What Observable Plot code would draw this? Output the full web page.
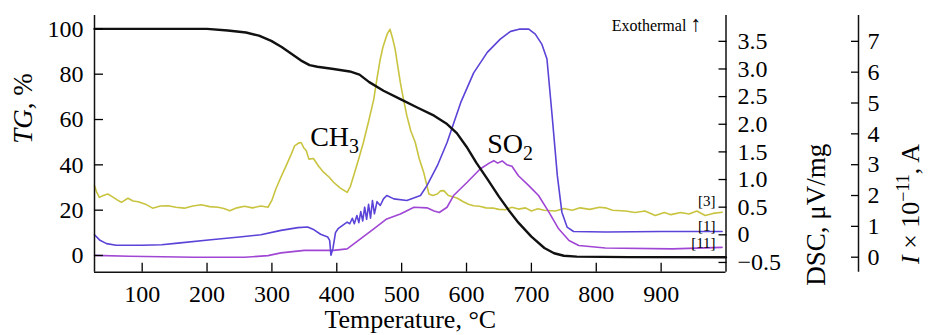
<!DOCTYPE html>
<html><head><meta charset="utf-8">
<script src="https://cdn.jsdelivr.net/npm/d3@7"></script>
<script src="https://cdn.jsdelivr.net/npm/@observablehq/plot@0.6"></script>
<style>body{margin:0;background:#fff} #chart{width:928px;height:335px}</style>
</head><body><div id="chart"></div>
<script>
// ---- data (temperature °C, value in the curve's own unit) ----
const xTicks = [100, 200, 300, 400, 500, 600, 700, 800, 900];
const tgTicks = [0, 20, 40, 60, 80, 100];
const dscTicks = [-0.5, 0, 0.5, 1.0, 1.5, 2.0, 2.5, 3.0, 3.5];
const iTicks = [0, 1, 2, 3, 4, 5, 6, 7];

// TG, %
const tg = [[26.5,100],[100,100],[200,100],[232,99.3],[260,98.4],[280,97],[299,94.7],[315,92],[330,89],[345,86],[358,84],[370,83.3],[395,82.3],[420,81.2],[435,79.8],[450,76.5],[472,72.7],[498,69],[524,65.3],[550,61.7],[570,58],[585,54],[600,48],[615,41],[632,33.8],[650,26],[665,20],[680,14.5],[700,8.3],[720,3.3],[735,1],[750,-0.1],[770,-0.5],[850,-0.7],[1000,-0.8]];

// DSC, µV/mg  [1]
const dsc = [[26.5,0],[35,-0.1],[45,-0.16],[60,-0.19],[100,-0.19],[130,-0.18],[155,-0.15],[206,-0.09],[250,-0.04],[283,0],[314,0.08],[340,0.13],[355,0.14],[365,0.09],[375,0.01],[386,-0.04],[389,-0.1],[391,-0.37],[394,-0.25],[398,0.04],[402,0.11],[410,0.18],[416,0.23],[420,0.2],[424,0.3],[427,0.2],[431,0.35],[434,0.22],[437,0.42],[440,0.25],[443,0.5],[446,0.28],[449,0.55],[452,0.3],[455,0.62],[458,0.38],[462,0.6],[467,0.53],[472,0.65],[477,0.71],[488,0.65],[508,0.62],[529,0.71],[539,0.89],[555,1.25],[570,1.67],[591,2.39],[611,2.93],[632,3.3],[652,3.54],[668,3.68],[681,3.72],[696,3.72],[706,3.63],[716,3.45],[724,3.18],[732,2.15],[740,1.07],[747,0.41],[755,0.14],[765,0.06],[815,0.05],[900,0.06],[994,0.06]];

// Ion current SO2 (m/z 64), I x 1e-11 A  [11]
const so2 = [[26.5,0.06],[80,0.03],[180,0],[258,0],[294,0.05],[314,0.14],[350,0.22],[395,0.22],[416,0.27],[437,0.6],[457,0.92],[477,1.24],[498,1.4],[519,1.62],[539,1.6],[550,1.5],[558,1.45],[570,1.62],[580,2.0],[601,2.43],[621,2.86],[635,3.05],[642,3.13],[648,3.05],[655,3.12],[662,3.0],[670,2.95],[680,2.64],[696,2.32],[711,2.0],[727,1.46],[742,0.92],[758,0.54],[773,0.38],[814,0.3],[917,0.27],[994,0.32]];

// Ion current CH3 (m/z 15), I x 1e-11 A  [3]
const ch3 = [[26.5,2.32],[30,2.1],[34,1.94],[40,2.0],[47,2.05],[55,1.95],[62,1.85],[68,1.78],[78,1.91],[86,1.82],[94,1.8],[105,1.72],[116,1.59],[128,1.66],[140,1.67],[152,1.62],[165,1.59],[178,1.66],[191,1.7],[204,1.64],[217,1.62],[226,1.58],[235,1.51],[246,1.6],[258,1.65],[270,1.6],[283,1.66],[294,1.62],[300,1.85],[306,2.21],[314,2.6],[322,2.97],[329,3.3],[335,3.61],[341,3.7],[345,3.72],[349,3.55],[353,3.45],[357,3.18],[364,3.2],[372,2.95],[380,2.75],[388,2.6],[395,2.43],[405,2.25],[416,2.1],[421,2.3],[426,2.64],[434,3.2],[441,3.72],[449,4.4],[457,5.12],[462,5.8],[467,6.42],[471,6.8],[475,7.07],[478,7.25],[482,7.39],[486,7.1],[490,6.74],[494,6.2],[498,5.66],[503,5.1],[508,4.59],[514,4.1],[521,3.72],[527,3.2],[534,2.75],[542,2.05],[548,2.0],[555,2.05],[560,2.15],[565,2.16],[572,2.0],[580,1.95],[586,1.91],[595,1.8],[603,1.72],[611,1.67],[620,1.65],[630,1.6],[642,1.59],[650,1.55],[660,1.54],[670,1.62],[680,1.56],[691,1.6],[700,1.5],[710,1.57],[720,1.52],[737,1.5],[750,1.58],[763,1.52],[775,1.6],[790,1.55],[805,1.62],[814,1.6],[825,1.52],[845,1.5],[860,1.45],[875,1.5],[891,1.35],[905,1.45],[915,1.38],[930,1.45],[943,1.4],[955,1.5],[968,1.35],[980,1.42],[994,1.46]];

// annotation anchors (temperature, TG-scale value)
const curveLabels = [{text: "CH3", T: 359, v: 48.5}, {text: "SO2", T: 632, v: 45.4}];
const traceTags = [{text: "[3]", T: 984, v: 22}, {text: "[1]", T: 984, v: 11}, {text: "[11]", T: 984, v: 3.1}];
const exoNote = [{text: "Exothermal ↑", T: 962, v: 99}];

// ---- scales ----
const xDomain = [26.5, 1000];
const tgDomain = [-7.37, 105.9];
const dscToY = d3.scaleLinear([0, 3.5], [9.13, 94.5]);
const iToY = d3.scaleLinear([0, 7], [-0.75, 94.5]);
const iAxisOffset = 132.5;
const fmtDsc = d => d === 0 ? "0" : (d < 0 ? "\u2212" + (-d).toFixed(1) : d.toFixed(1));

const FONT = "Liberation Serif";
const plot = Plot.plot({
  width: 928, height: 335,
  marginTop: 15, marginBottom: 63.3, marginLeft: 94, marginRight: 202.5,
  style: {fontFamily: FONT, fontSize: "24px", color: "#000", background: "#fff"},
  x: {domain: xDomain},
  y: {domain: tgDomain},
  marks: [
    Plot.line(ch3, {x: d => d[0], y: d => iToY(d[1]), stroke: "#c9c440", strokeWidth: 1.6}),
    Plot.line(so2, {x: d => d[0], y: d => iToY(d[1]), stroke: "#a046d4", strokeWidth: 1.6}),
    Plot.line(dsc, {x: d => d[0], y: d => dscToY(d[1]), stroke: "#5a44d8", strokeWidth: 1.6}),
    Plot.line(tg, {x: d => d[0], y: d => d[1], stroke: "#111", strokeWidth: 2.4}),
    // frame lines
    Plot.ruleX([xDomain[0]], {stroke: "#111", strokeWidth: 1.5}),
    Plot.ruleX([xDomain[1]], {stroke: "#111", strokeWidth: 1.5}),
    Plot.ruleX([xDomain[1]], {dx: iAxisOffset, stroke: "#111", strokeWidth: 1.5}),
    Plot.ruleY([tgDomain[0]], {stroke: "#111", strokeWidth: 1.5}),
    // axes
    Plot.axisX(xTicks, {anchor: "bottom", tickSize: -9, tickPadding: 22, fontSize: 24, label: null, strokeWidth: 1.3}),
    Plot.axisY(tgTicks, {anchor: "left", tickSize: -9, tickPadding: 20, fontSize: 24, label: null, strokeWidth: 1.3}),
    Plot.axisY(dscTicks, {y: dscToY, anchor: "right", tickSize: -8, tickPadding: 19.5, tickFormat: fmtDsc, fontSize: 24, label: null, strokeWidth: 1.3}),
    Plot.axisY(iTicks, {y: iToY, anchor: "right", dx: iAxisOffset, tickSize: -8, tickPadding: 17, fontSize: 24, label: null, strokeWidth: 1.3}),
    // axis titles
    Plot.text(["TG, %"], {frameAnchor: "left", dx: -71, rotate: -90, fontSize: 27, lineAnchor: "middle"}),
    Plot.text(["DSC, μV/mg"], {frameAnchor: "right", dx: 90.5, rotate: -90, fontSize: 27, lineAnchor: "middle"}),
    Plot.text(["I × 10−11, A"], {frameAnchor: "right", dx: 185, rotate: -90, fontSize: 26, lineAnchor: "middle"}),
    Plot.text(["Temperature, °C"], {frameAnchor: "bottom", dy: 56, fontSize: 26, lineAnchor: "bottom"}),
    // annotations
    Plot.text(curveLabels, {x: "T", y: "v", text: "text", textAnchor: "start", lineAnchor: "bottom", fontSize: 28}),
    Plot.text(traceTags, {x: "T", y: "v", text: "text", textAnchor: "end", lineAnchor: "bottom", fontSize: 15}),
    Plot.text(exoNote, {x: "T", y: "v", text: "text", textAnchor: "end", lineAnchor: "bottom", fontSize: 16})
  ]
});

function richify(svg, str, parts) {
  d3.select(svg).selectAll("text").filter(function () { return this.textContent === str; }).each(function () {
    const t = d3.select(this);
    t.text(null);
    let shift = 0;
    for (const p of parts) {
      const s = t.append("tspan").text(p.t);
      const target = p.shift || 0;
      if (target !== shift) { s.attr("dy", target - shift); shift = target; }
      if (p.italic) s.attr("font-style", "italic");
      if (p.size) s.attr("font-size", p.size);
    }
  });
}
richify(plot, "CH3", [{t: "CH"}, {t: "3", shift: 7, size: "20px"}]);
richify(plot, "SO2", [{t: "SO"}, {t: "2", shift: 7, size: "20px"}]);
richify(plot, "TG, %", [{t: "TG", italic: true}, {t: ", %"}]);
richify(plot, "I × 10−11, A", [{t: "I", italic: true}, {t: " × 10"}, {t: "−11", shift: -10, size: "18px"}, {t: ", A", shift: 0}]);
richify(plot, "Exothermal ↑", [{t: "Exothermal "}, {t: "↑", size: "22px"}]);

document.getElementById("chart").appendChild(plot);
</script></body></html>
